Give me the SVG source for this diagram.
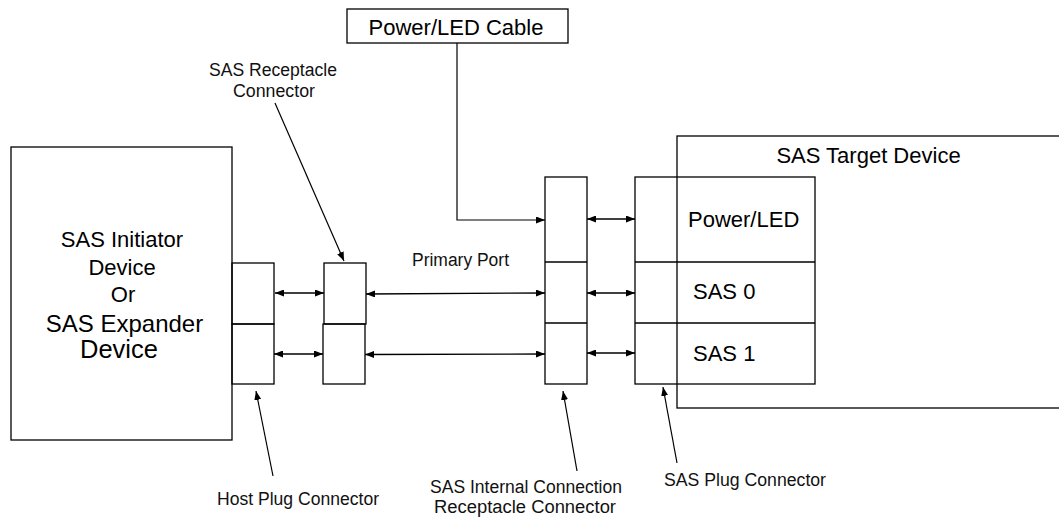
<svg xmlns="http://www.w3.org/2000/svg" width="1059" height="517" viewBox="0 0 1059 517">
<defs>
<marker id="ah" viewBox="0 0 9 7" refX="9" refY="3.5" markerWidth="9" markerHeight="7" markerUnits="userSpaceOnUse" orient="auto-start-reverse">
<path d="M0,0 L9,3.5 L0,7 z" fill="#000"/>
</marker>
<style>
.box{fill:none;stroke:#000;stroke-width:1.3}
.ln{fill:none;stroke:#000;stroke-width:1.3}
.dbl{fill:none;stroke:#000;stroke-width:1.3;marker-start:url(#ah);marker-end:url(#ah)}
.one{fill:none;stroke:#000;stroke-width:1.2;marker-end:url(#ah)}
.big{font-family:"Liberation Sans",Arial,sans-serif;font-size:22px;fill:#000}
.big2{font-family:"Liberation Sans",Arial,sans-serif;font-size:24px;fill:#000}
.sm{font-family:"Liberation Sans",Arial,sans-serif;font-size:18px;fill:#111}
</style>
</defs>
<rect width="1059" height="517" fill="#fff"/>

<g id="initiator">
<rect class="box" x="11" y="147" width="221" height="293"/>
<text class="big" x="122" y="247" text-anchor="middle">SAS Initiator</text>
<text class="big" x="122" y="275" text-anchor="middle">Device</text>
<text class="big" x="123" y="301.5" text-anchor="middle">Or</text>
<text class="big2" x="124.5" y="331.5" text-anchor="middle">SAS Expander</text>
<text class="big2" x="119" y="358" text-anchor="middle" style="font-size:25.5px">Device</text>
</g>

<g id="host-plug">
<rect class="box" x="232" y="263" width="42" height="61"/>
<rect class="box" x="232" y="324" width="42" height="60"/>
</g>

<g id="sas-receptacle">
<rect class="box" x="324" y="263" width="42" height="61"/>
<rect class="box" x="323" y="324" width="42" height="60"/>
</g>

<g id="internal-receptacle">
<rect class="box" x="545" y="177" width="42" height="207"/>
<line class="ln" x1="545" y1="262" x2="587" y2="262"/>
<line class="ln" x1="545" y1="323" x2="587" y2="323"/>
</g>

<g id="target-device">
<rect class="box" x="677" y="136" width="420" height="272"/>
<text class="big" x="868.5" y="163" text-anchor="middle">SAS Target Device</text>
</g>

<g id="plug-connector">
<rect class="box" x="635" y="177" width="180" height="207"/>
<line class="ln" x1="635" y1="262" x2="815" y2="262"/>
<line class="ln" x1="635" y1="323" x2="815" y2="323"/>
<text class="big" x="688" y="227">Power/LED</text>
<text class="big" x="693" y="299">SAS 0</text>
<text class="big" x="693" y="360.5">SAS 1</text>
</g>

<g id="power-cable">
<rect class="box" x="347" y="9" width="221" height="34"/>
<text class="big" x="456" y="34.5" text-anchor="middle">Power/LED Cable</text>
</g>

<g id="labels">
<text class="sm" x="273" y="76" text-anchor="middle" textLength="128" lengthAdjust="spacingAndGlyphs">SAS Receptacle</text>
<text class="sm" x="274" y="97" text-anchor="middle" textLength="82" lengthAdjust="spacingAndGlyphs">Connector</text>
<text class="sm" x="460.5" y="266" text-anchor="middle" textLength="97" lengthAdjust="spacingAndGlyphs">Primary Port</text>
<text class="sm" x="298" y="505" text-anchor="middle" textLength="162" lengthAdjust="spacingAndGlyphs">Host Plug Connector</text>
<text class="sm" x="526" y="493" text-anchor="middle" textLength="192" lengthAdjust="spacingAndGlyphs">SAS Internal  Connection</text>
<text class="sm" x="525" y="512.5" text-anchor="middle" textLength="182" lengthAdjust="spacingAndGlyphs">Receptacle Connector</text>
<text class="sm" x="745" y="486" text-anchor="middle" textLength="162" lengthAdjust="spacingAndGlyphs">SAS Plug Connector</text>
</g>

<g id="connectors">
<line class="dbl" x1="275" y1="293" x2="324" y2="293"/>
<line class="dbl" x1="274" y1="354" x2="323" y2="354"/>
<line class="dbl" x1="366" y1="294" x2="545" y2="293"/>
<line class="dbl" x1="365" y1="354.5" x2="545" y2="354"/>
<line class="dbl" x1="587" y1="219" x2="635" y2="219"/>
<line class="dbl" x1="587" y1="293" x2="635" y2="293"/>
<line class="dbl" x1="587" y1="353" x2="635" y2="353"/>
<polyline class="one" points="457,43 457,220 545,220"/>
<line class="one" x1="275" y1="103" x2="344" y2="261"/>
<line class="one" x1="273" y1="476" x2="256" y2="391"/>
<line class="one" x1="577" y1="471" x2="563" y2="391"/>
<line class="one" x1="677" y1="463" x2="663" y2="387"/>
</g>
</svg>
